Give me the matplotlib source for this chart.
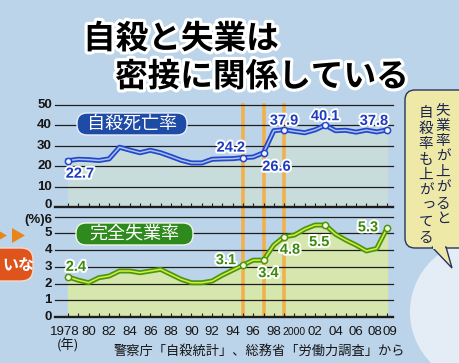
import matplotlib
matplotlib.use('Agg')
import matplotlib.pyplot as plt
from matplotlib import patheffects as pe
from matplotlib.patches import FancyBboxPatch, Circle, Polygon

plt.rcParams['font.family'] = ['Noto Sans CJK JP', 'DejaVu Sans']

# データ
years = list(range(1978, 2010))
suicide = [22.7, 23.4, 23.2, 22.8, 23.6, 29.3, 27.9, 26.6, 27.8, 26.6,
           24.8, 22.9, 21.6, 21.6, 23.4, 23.6, 23.7, 24.2, 24.5, 26.6,
           37.4, 37.9, 37.1, 36.4, 37.8, 40.1, 37.4, 37.6, 36.7, 37.7,
           36.8, 37.8]
unemp = [2.4, 2.2, 2.05, 2.35, 2.45, 2.75, 2.75, 2.65, 2.75, 2.85,
         2.55, 2.25, 2.05, 2.05, 2.15, 2.5, 2.8, 3.1, 3.4, 3.4,
         4.3, 4.8, 4.9, 5.25, 5.5, 5.5, 4.95, 4.6, 4.3, 3.95,
         4.1, 5.3]
mark_years = [1978, 1995, 1997, 1999, 2003, 2009]
hl_years = [1995, 1997, 1999]
xlabels = ['1978', '80', '82', '84', '86', '88', '90', '92', '94', '96',
           '98', '2000', '02', '04', '06', '08', '09']
xlabel_years = list(range(1978, 2009, 2)) + [2009]
top_ticks = [0, 10, 20, 30, 40, 50]
bot_ticks = [0, 1, 2, 3, 4, 5, 6]
bot_ticklabels = ['0', '1', '2', '3', '4', '5', '(%)6']

W, H = 460, 363
BG = '#bcd4ea'
BLUE = '#2446c8'
GREEN = '#4a9612'
INK = '#151515'


def rect(l, t, r, b):
    return [l / W, 1 - b / H, (r - l) / W, (b - t) / H]


fig = plt.figure(figsize=(W / 100, H / 100), dpi=100, facecolor=BG)

ax1 = fig.add_axes(rect(55, 105, 393, 207))
ax2 = fig.add_axes(rect(55, 215, 393, 317))
xlim = (1978 - 13 / 10.29, 2009 + 6 / 10.29)

for ax, ylim, ticks in [(ax1, (0, 50), top_ticks), (ax2, (0, 6.1), bot_ticks)]:
    ax.set_facecolor('none')
    ax.set_xlim(xlim)
    ax.set_ylim(ylim)
    for s in ax.spines.values():
        s.set_visible(False)
    for v in ticks:
        ax.axhline(v, color='#1e1e1e', lw=1.7 if v == 0 else 0.9,
                   zorder=1.5, clip_on=False)
    ax.set_yticks([])
    ax.set_xticks(years)
    ax.tick_params(axis='x', direction='in', length=3, width=0.8,
                   color='#1e1e1e', labelbottom=False)

# 1995・97・99 のオレンジ帯
for yr in hl_years:
    ax1.axvline(yr, ymin=-0.08, ymax=1, color='#f2b04c', lw=2.6,
                zorder=1.2, clip_on=False)
    ax2.axvline(yr, color='#f2b04c', lw=2.6, zorder=1.2)

# 自殺死亡率
ax1.fill_between(years, suicide, color='#c8dcdc', zorder=1)
ax1.plot(years, suicide, color=BLUE, lw=3.6, zorder=3,
         solid_joinstyle='round')
ax1.plot(years, suicide, color='#a8c2f4', lw=1.1, zorder=3.1)
sv = [suicide[years.index(y)] for y in mark_years]
ax1.plot(mark_years, sv, 'o', ms=4.5, mfc='#eef4ff', mec=BLUE,
         mew=1.1, zorder=4, clip_on=False)

# 完全失業率
ax2.fill_between(years, unemp, color='#d6e7ae', zorder=1)
ax2.plot(years, unemp, color=GREEN, lw=3.6, zorder=3,
         solid_joinstyle='round')
ax2.plot(years, unemp, color='#d8ee3c', lw=1.1, zorder=3.1)
uv = [unemp[years.index(y)] for y in mark_years]
ax2.plot(mark_years, uv, 'o', ms=4.5, mfc='#fbfbd8', mec=GREEN,
         mew=1.1, zorder=4, clip_on=False)

white = [pe.withStroke(linewidth=2.8, foreground='white')]
top_off = [(12, -13), (-12, 10), (13, -14), (0, 9), (0, 9), (-13, 9)]
for yr, v, (dx, dy) in zip(mark_years, sv, top_off):
    ax1.annotate(f'{v:.1f}', (yr, v), xytext=(dx, dy),
                 textcoords='offset pixels', ha='center', va='center',
                 fontsize=10.5, fontweight='bold', color='#1f3cc0',
                 fontfamily='Liberation Sans', path_effects=white,
                 zorder=6)
bot_off = [(8, 10), (-17, 5), (5, -13), (6, -13), (-6, -17), (-19, 1)]
for yr, v, (dx, dy) in zip(mark_years, uv, bot_off):
    ax2.annotate(f'{v:.1f}', (yr, v), xytext=(dx, dy),
                 textcoords='offset pixels', ha='center', va='center',
                 fontsize=10.5, fontweight='bold', color='#3a8a0e',
                 fontfamily='Liberation Sans', path_effects=white,
                 zorder=6)

# 横軸の目盛りラベル（08 と 09 は詰まるので左右に寄せる）
shift = {1978: -3, 2008: -2, 2009: 3}
for yr, lab in zip(xlabel_years, xlabels):
    ax2.annotate(lab, (yr, 0), xycoords=('data', 'axes fraction'),
                 xytext=(shift.get(yr, 0), -15), textcoords='offset pixels',
                 ha='center', va='center',
                 fontsize=7.5 if lab == '2000' else 9.5,
                 fontfamily='Liberation Sans', color=INK)

# 縦軸の目盛りラベル（0 と (%)6 が重ならないよう少しずらす）
for v in top_ticks:
    ax1.annotate(str(v), (0, v), xycoords=('axes fraction', 'data'),
                 xytext=(-3, 2 if v == 0 else 0),
                 textcoords='offset pixels', ha='right', va='center',
                 fontsize=9.5, fontweight='bold', color=INK,
                 fontfamily='Liberation Sans', annotation_clip=False)
for v, lab in zip(bot_ticks, bot_ticklabels):
    ax2.annotate(lab, (0, v), xycoords=('axes fraction', 'data'),
                 xytext=(-3, -3 if v == 6 else 0),
                 textcoords='offset pixels', ha='right', va='center',
                 fontsize=9.5, fontweight='bold', color=INK,
                 fontfamily=['Liberation Sans', 'Noto Sans CJK JP'],
                 annotation_clip=False)

# 飾り・文字（ピクセル座標のオーバーレイ）
deco = fig.add_axes([0, 0, 1, 1], zorder=5)
deco.set_xlim(0, W)
deco.set_ylim(H, 0)
deco.axis('off')
deco.patch.set_alpha(0)

outline = [pe.withStroke(linewidth=4.5, foreground='white')]
deco.text(83, 39, '自殺と失業は', fontsize=23.5, fontweight='bold',
          ha='left', va='center', color='black', path_effects=outline)
deco.text(115, 77, '密接に関係している', fontsize=23.5, fontweight='bold',
          ha='left', va='center', color='black', path_effects=outline)

deco.add_patch(FancyBboxPatch((77, 113), 110, 22,
                              boxstyle='round,pad=0,rounding_size=10',
                              fc='#1d4ba6', ec='#e8eefa', lw=1, zorder=5))
deco.text(132, 124, '自殺死亡率', fontsize=13, color='white',
          ha='center', va='center', zorder=6)
deco.add_patch(FancyBboxPatch((76, 223), 117, 22,
                              boxstyle='round,pad=0,rounding_size=10',
                              fc='#2e8a1c', ec='#eef6e6', lw=1, zorder=5))
deco.text(134.5, 234, '完全失業率', fontsize=13, color='white',
          ha='center', va='center', zorder=6)

# 右下の白い丸と吹き出し
deco.add_patch(Circle((482, 312), 72, fc='#e4edf6', ec='none', zorder=1))
deco.add_patch(FancyBboxPatch((405, 90), 70, 158,
                              boxstyle='round,pad=0,rounding_size=10',
                              fc='#efe9a8', ec='#26355f', lw=1, zorder=2))
deco.add_patch(Polygon([(432, 247), (452, 268), (446, 247)], closed=True,
                       fc='#efe9a8', ec='#26355f', lw=1, zorder=2))
deco.add_patch(Polygon([(433, 246), (445.5, 246), (445.5, 248.5),
                        (433, 248.5)], closed=True, fc='#efe9a8',
                       ec='none', zorder=2.1))
cols = [(443, 110, '失業率が上がると'), (426, 113, '自殺率も上がってる')]
for x0, y0, s in cols:
    for i, ch in enumerate(s):
        dx, dy = (3, -3) if ch == 'っ' else (0, 0)
        deco.text(x0 + dx, y0 + i * 15.6 + dy, ch, fontsize=10.5,
                  color='#1a2450', ha='center', va='center', zorder=3)

# 左端の矢印と丸ボタン
deco.add_patch(Polygon([(-6, 228), (7, 235.5), (-6, 243)], closed=True,
                       fc='#e8861c', ec='none'))
deco.add_patch(Polygon([(12, 228), (25, 235.5), (12, 243)], closed=True,
                       fc='#e8861c', ec='none'))
deco.add_patch(FancyBboxPatch((-20, 248), 53, 33,
                              boxstyle='round,pad=0,rounding_size=12',
                              fc='#de541c', ec='#f4d8c8', lw=1))
deco.text(2, 265, 'いな', fontsize=11.5, fontweight='bold', color='white',
          ha='left', va='center')

deco.text(68, 346, '(年)', fontsize=9.5, color=INK,
          ha='center', va='center')
deco.text(259, 351, '警察庁「自殺統計」、総務省「労働力調査」から',
          fontsize=9.5, color=INK, ha='center', va='center')

fig.savefig('out.png', dpi=100, facecolor=BG)
